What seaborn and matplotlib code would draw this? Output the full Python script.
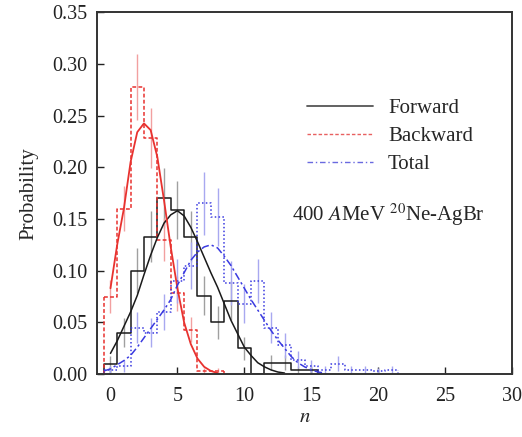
import numpy as np
import pandas as pd
import matplotlib
matplotlib.use("Agg")
import matplotlib.pyplot as plt
from matplotlib.lines import Line2D
import seaborn as sns

# multiplicity bins (integer n) and measured probabilities
n_fwd = list(range(0, 16))
p_fwd = [0.010, 0.040, 0.100, 0.133, 0.170, 0.159, 0.133, 0.076,
         0.050, 0.071, 0.025, 0.000, 0.011, 0.011, 0.004, 0.004]
e_fwd = [0.007, 0.014, 0.022, 0.025, 0.029, 0.028, 0.025, 0.019,
         0.016, 0.019, 0.011, 0.000, 0.007, 0.007, 0.004, 0.004]

n_bwd = list(range(0, 9))
p_bwd = [0.075, 0.160, 0.278, 0.228, 0.130, 0.078, 0.043, 0.003, 0.003]
e_bwd = [0.016, 0.022, 0.032, 0.029, 0.021, 0.017, 0.012, 0.003, 0.003]

n_tot = list(range(0, 22))
p_tot = [0.004, 0.008, 0.045, 0.040, 0.060, 0.090, 0.105, 0.165, 0.152, 0.088,
         0.068, 0.090, 0.045, 0.028, 0.014, 0.008, 0.004, 0.010, 0.004, 0.004,
         0.003, 0.004]
e_tot = [0.004, 0.006, 0.015, 0.014, 0.017, 0.021, 0.023, 0.030, 0.028, 0.021,
         0.019, 0.021, 0.015, 0.012, 0.008, 0.006, 0.004, 0.007, 0.004, 0.004,
         0.003, 0.004]

# fitted curves
x_fit_fwd = [0, 0.5, 1, 1.5, 2, 2.5, 3, 3.5, 4, 4.5, 5, 5.5, 6, 6.5, 7, 7.5,
             8, 8.5, 9, 9.5, 10, 10.5, 11, 11.5, 12, 12.5, 13]
y_fit_fwd = [0.020, 0.032, 0.046, 0.060, 0.076, 0.096, 0.115, 0.132, 0.146, 0.154,
             0.158, 0.153, 0.142, 0.128, 0.113, 0.098, 0.084, 0.068, 0.052, 0.039,
             0.026, 0.018, 0.011, 0.007, 0.004, 0.002, 0.001]

x_fit_bwd = [0, 0.5, 1, 1.5, 2, 2.5, 3, 3.5, 4, 4.5, 5, 5.5, 6, 6.5, 7, 7.5, 8]
y_fit_bwd = [0.083, 0.125, 0.160, 0.205, 0.234, 0.2425, 0.236, 0.210, 0.168, 0.123,
             0.083, 0.050, 0.029, 0.015, 0.007, 0.003, 0.001]

x_fit_tot = [-0.5, 0, 0.5, 1, 1.5, 2, 2.5, 3, 3.5, 4, 4.5, 5, 5.5, 6, 6.5, 7, 7.5,
             8, 8.5, 9, 9.5, 10, 10.5, 11, 11.5, 12, 12.5, 13, 13.5, 14, 14.5,
             15, 15.5, 16]
y_fit_tot = [0.003, 0.005, 0.009, 0.013, 0.018, 0.026, 0.035, 0.044, 0.053, 0.062,
             0.072, 0.086, 0.098, 0.110, 0.118, 0.123, 0.125, 0.122, 0.114, 0.105,
             0.094, 0.083, 0.072, 0.062, 0.052, 0.042, 0.033, 0.025, 0.017, 0.011,
             0.007, 0.004, 0.002, 0.001]

legend_labels = ["Forward", "Backward", "Total"]

sns.set_style("ticks")
plt.rcParams["font.family"] = ["Liberation Serif", "DejaVu Serif"]
plt.rcParams["mathtext.fontset"] = "stix"

fig = plt.figure(figsize=(5.22, 4.37), dpi=100)
ax = fig.add_axes([0.186, 0.144, 0.795, 0.828])

c_fwd, c_bwd, c_tot = "#1a1a1a", "#e8322f", "#3a3ae0"
ls_bwd = (0, (2.5, 1.5))
ls_tot = (0, (1, 1.5))

# error bars (drawn first, lighter)
ax.errorbar(n_fwd, p_fwd, yerr=e_fwd, fmt="none", ecolor="#a0a0a0", elinewidth=1.0, capsize=0, zorder=1)
ax.errorbar(n_bwd, p_bwd, yerr=e_bwd, fmt="none", ecolor="#f2a0a0", elinewidth=1.0, capsize=0, zorder=1)
ax.errorbar(n_tot, p_tot, yerr=e_tot, fmt="none", ecolor="#a8a8f0", elinewidth=1.0, capsize=0, zorder=1)

# histograms
for n, p, col, ls in [(n_fwd, p_fwd, c_fwd, "-"), (n_bwd, p_bwd, c_bwd, ls_bwd),
                      (n_tot, p_tot, c_tot, ls_tot)]:
    sns.histplot(x=n, weights=p, discrete=True, element="step", fill=False,
                 color=col, linewidth=1.1, linestyle=ls, ax=ax)
    # close the outer edges of the step outline down to zero
    ax.vlines([n[0] - 0.5, n[-1] + 0.5], 0, [p[0], p[-1]], colors=col,
              linewidth=1.1, linestyles=ls)

# fits
sns.lineplot(x=x_fit_fwd, y=y_fit_fwd, color=c_fwd, linewidth=1.1, ax=ax)
sns.lineplot(x=x_fit_bwd, y=y_fit_bwd, color=c_bwd, linewidth=1.3, ax=ax)
sns.lineplot(x=x_fit_tot, y=y_fit_tot, color=c_tot, linewidth=1.1,
             linestyle=(0, (5, 2, 1.5, 2)), ax=ax)

handles = [
    Line2D([], [], color="#555555", lw=1.3),
    Line2D([], [], color="#e86060", lw=1.0, ls=(0, (2.5, 1.5))),
    Line2D([], [], color="#6a6ae0", lw=1.0, ls=(0, (4, 2, 1, 2))),
]
ax.legend(handles, legend_labels, loc="upper left", bbox_to_anchor=(0.48, 0.79),
          frameon=False, fontsize=15, handlelength=3.2, handletextpad=0.7,
          labelspacing=0.4, borderpad=0)

ax.text(0.47, 0.44, r"400 $\mathit{A}$MeV $^{20}$Ne-AgBr", transform=ax.transAxes,
        fontsize=15, ha="left", va="center")

ax.set_xlim(-1, 30)
ax.set_ylim(0, 0.35)
ax.set_xticks(range(0, 31, 5))
ax.set_yticks(np.arange(0, 0.351, 0.05))
ax.set_yticklabels([f"{v:.2f}" for v in np.arange(0, 0.351, 0.05)])
ax.set_xlabel(r"$\mathit{n}$", fontsize=15, labelpad=2)
ax.set_ylabel("Probability", fontsize=15, labelpad=10)
ax.tick_params(direction="in", length=5, width=1.0, labelsize=14.5, colors="#222222")
ax.tick_params(axis="x", pad=9)
ax.tick_params(axis="y", pad=7)
for s in ax.spines.values():
    s.set_linewidth(1.4)
    s.set_color("#333333")
    s.set_visible(True)

fig.savefig("out.png", dpi=100)
